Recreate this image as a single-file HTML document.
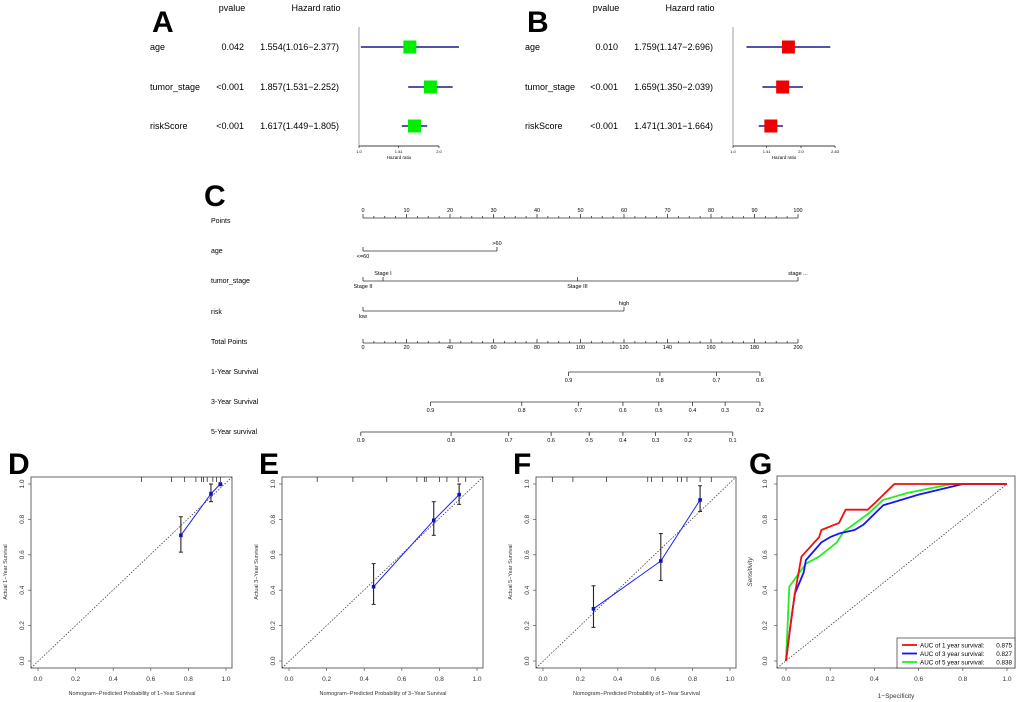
<!DOCTYPE html>
<html><head><meta charset="utf-8"><style>
body{margin:0;background:#fff;}
svg{display:block;font-family:"Liberation Sans",Arial,sans-serif;}
</style></head><body>
<svg id="fig" width="1020" height="702" viewBox="0 0 1020 702" xmlns="http://www.w3.org/2000/svg"></svg>
<script>
// ---- Forest plot data ----
const forestVars = ["age","tumor_stage","riskScore"];
const aP = ["0.042","<0.001","<0.001"];
const aHR = [1.554,1.857,1.617];
const aLo = [1.016,1.531,1.449];
const aHi = [2.377,2.252,1.805];
const bP = ["0.010","<0.001","<0.001"];
const bHR = [1.759,1.659,1.471];
const bLo = [1.147,1.350,1.301];
const bHi = [2.696,2.039,1.664];
const aTicks = [1.0,1.41,2.0];
const bTicks = [1.0,1.41,2.0,2.83];
// ---- Nomogram data ----
const nomoRows = ["Points","age","tumor_stage","risk","Total Points","1-Year Survival","3-Year Survival","5-Year survival"];
const ageLevels = ["<=60",">60"]; const agePts = [0,30.8];
const stageLevels = ["Stage II","Stage I","Stage III","stage ..."]; const stagePts = [0,4.6,49.3,100];
const riskLevels = ["low","high"]; const riskPts = [0,60];
const surv1Labels = ["0.9","0.8","0.7","0.6"]; const surv1Tot = [94.5,136.5,162.5,182.5];
const surv3Labels = ["0.9","0.8","0.7","0.6","0.5","0.4","0.3","0.2"]; const surv3Tot = [31,73,99,119.5,136,151.5,166.5,182.5];
const surv5Labels = ["0.9","0.8","0.7","0.6","0.5","0.4","0.3","0.2","0.1"]; const surv5Tot = [-1,40.5,67,86.5,104,119.5,134.5,149.5,170];
// ---- Calibration data ----
const calDX = [0.76,0.92,0.97]; const calDY = [0.71,0.945,1.0]; const calDLo=[0.615,0.90,0.99]; const calDHi=[0.815,1.0,1.0];
const calEX = [0.45,0.77,0.905]; const calEY = [0.42,0.795,0.94]; const calELo=[0.32,0.71,0.885]; const calEHi=[0.55,0.90,1.0];
const calFX = [0.27,0.63,0.84]; const calFY = [0.295,0.565,0.91]; const calFLo=[0.19,0.455,0.845]; const calFHi=[0.425,0.72,0.99];
const rugD = [0.55,0.71,0.78,0.84,0.87,0.88,0.9,0.93,0.95,0.97];
const rugE = [0.15,0.34,0.52,0.68,0.72,0.73,0.8,0.84,0.9,0.94];
const rugF = [0.05,0.16,0.34,0.56,0.58,0.64,0.72,0.74,0.77,0.84,0.9];
// ---- ROC data ----
const rocRedX=[0,0.02,0.04,0.07,0.15,0.16,0.24,0.27,0.37,0.40,0.49,1];
const rocRedY=[0,0.2,0.38,0.59,0.70,0.74,0.78,0.855,0.855,0.89,1,1];
const rocBlueX=[0,0.02,0.04,0.08,0.09,0.16,0.2,0.24,0.31,0.35,0.44,0.6,0.8,1];
const rocBlueY=[0,0.2,0.38,0.5,0.57,0.67,0.70,0.72,0.74,0.77,0.88,0.94,1,1];
const rocGreenX=[0,0.015,0.09,0.15,0.23,0.26,0.37,0.44,0.55,0.75,1];
const rocGreenY=[0,0.42,0.55,0.59,0.67,0.73,0.83,0.91,0.95,1,1];
const aucLabels=["AUC of 1 year survival:","AUC of 3 year survival:","AUC of 5 year survival:"];
const aucValues=["0.875","0.827","0.838"];

const NS="http://www.w3.org/2000/svg";
const svg=document.getElementById('fig');
function mk(tag,attrs,parent,text){const e=document.createElementNS(NS,tag);for(const k in attrs)e.setAttribute(k,attrs[k]);if(text!==undefined)e.textContent=text;(parent||svg).appendChild(e);return e;}
function grp(name){const g=mk('g',{});return g;}

// ---------- Forest ----------
function forest(name,letter,lx,labelX,pRight,hrRight,axX,unit,P,HR,LO,HI,ticks,color){
  const g=grp(name);
  const sx=v=>axX+unit*Math.log(v)/Math.LN2;
  const t=mk('text',{x:labelX+2,y:32,'font-size':30,'font-weight':'bold'},g,letter);
  
  mk('text',{x:pRight-12,y:11,'font-size':9,'text-anchor':'middle'},g,'pvalue');
  mk('text',{x:hrRight-23,y:11,'font-size':9,'text-anchor':'middle'},g,'Hazard ratio');
  const rowY=[47,87,126];
  forestVars.forEach((v,i)=>{
    mk('text',{x:labelX,y:rowY[i]+3,'font-size':9},g,v);
    mk('text',{x:pRight,y:rowY[i]+3,'font-size':9,'text-anchor':'end'},g,P[i]);
    mk('text',{x:hrRight,y:rowY[i]+3,'font-size':9,'text-anchor':'end'},g,HR[i].toFixed(3)+'('+LO[i].toFixed(3)+'\u2212'+HI[i].toFixed(3)+')');
    const l=mk('line',{x1:sx(LO[i]),x2:sx(HI[i]),y1:rowY[i],y2:rowY[i],stroke:'#1a1a8c','stroke-width':1.6},g);
    
    const r=mk('rect',{x:sx(HR[i])-6.5,y:rowY[i]-6.5,width:13,height:13,fill:color},g);
    
  });
  mk('line',{x1:axX,x2:axX,y1:27,y2:146,stroke:'#888','stroke-width':0.8},g);
  const last=ticks[ticks.length-1];
  mk('line',{x1:axX,x2:sx(last),y1:146,y2:146,stroke:'#000','stroke-width':0.8},g);
  ticks.forEach(tk=>{mk('line',{x1:sx(tk),x2:sx(tk),y1:146,y2:148,stroke:'#000','stroke-width':0.6},g);
    mk('text',{x:sx(tk),y:153,'font-size':4,'text-anchor':'middle'},g,tk.toFixed(tk===1.41||tk===2.83?2:1));});
  mk('text',{x:(axX+sx(ticks[ticks.length-1]))/2,y:159,'font-size':4.5,'text-anchor':'middle'},g,'Hazard ratio');
}
forest('forest-plot-a','A',150,150,244,339,359,80,aP,aHR,aLo,aHi,aTicks,'#00ee00');
forest('forest-plot-b','B',510,525,618,713,733,68,bP,bHR,bLo,bHi,bTicks,'#ee0000');

// ---------- Nomogram ----------
(function(){
  const g=grp('nomogram');
  const x0=363,x1=798;
  const px=p=>x0+(x1-x0)*p/100;
  const tx=t=>x0+(x1-x0)*t/200;
  const t=mk('text',{x:204,y:206,'font-size':30,'font-weight':'bold'},g,'C');
  
  const rowY=[220,250,280,311,341,371,401,431];
  nomoRows.forEach((r,i)=>mk('text',{x:211,y:rowY[i]+3,'font-size':7},g,r));
  const ls={stroke:'#333','stroke-width':0.8};
  // points axis
  let y=218;
  mk('line',Object.assign({x1:x0,x2:x1,y1:y,y2:y},ls),g);
  for(let p=0;p<=100;p+=2.5){const maj=p%10===0;mk('line',Object.assign({x1:px(p),x2:px(p),y1:y,y2:y-(maj?4:2)},ls),g);
    if(maj)mk('text',{x:px(p),y:y-6,'font-size':5.5,'text-anchor':'middle'},g,String(p));}
  function cat(yy,levels,pts,above){
    const mx=Math.max(...pts);
    mk('line',Object.assign({x1:x0,x2:px(mx),y1:yy,y2:yy},ls),g);
    levels.forEach((l,i)=>{mk('line',Object.assign({x1:px(pts[i]),x2:px(pts[i]),y1:yy,y2:yy-4},ls),g);
      const up=above[i];mk('text',{x:px(pts[i]),y:up?yy-6:yy+7,'font-size':5.5,'text-anchor':'middle'},g,l);});
  }
  cat(251,ageLevels,agePts,[false,true]);
  cat(281,stageLevels,stagePts,[false,true,false,true]);
  cat(311,riskLevels,riskPts,[false,true]);
  y=343;
  mk('line',Object.assign({x1:x0,x2:x1,y1:y,y2:y},ls),g);
  for(let p=0;p<=200;p+=5){const maj=p%20===0;mk('line',Object.assign({x1:tx(p),x2:tx(p),y1:y,y2:y-(maj?4:2)},ls),g);
    if(maj)mk('text',{x:tx(p),y:y+6,'font-size':5.5,'text-anchor':'middle'},g,String(p));}
  function surv(yy,labels,tots){
    mk('line',Object.assign({x1:tx(tots[0]),x2:tx(tots[tots.length-1]),y1:yy,y2:yy},ls),g);
    labels.forEach((l,i)=>{mk('line',Object.assign({x1:tx(tots[i]),x2:tx(tots[i]),y1:yy,y2:yy+4},ls),g);
      mk('text',{x:tx(tots[i]),y:yy+10,'font-size':5.5,'text-anchor':'middle'},g,l);});
  }
  surv(372,surv1Labels,surv1Tot);
  surv(402,surv3Labels,surv3Tot);
  surv(432,surv5Labels,surv5Tot);
})();

// ---------- Calibration ----------
function calib(name,letter,bx,x0,x1,X,Y,LO,HI,rug,xt,yt){
  const g=grp(name);
  const sx=v=>x0+(x1-x0)*v, sy=v=>661-(661-484)*v;
  const t=mk('text',{x:bx-23,y:474,'font-size':30,'font-weight':'bold'},g,letter);
  
  mk('rect',{x:bx,y:477,width:x1-x0+13,height:191,fill:'none',stroke:'#555','stroke-width':0.9},g);
  mk('line',{x1:bx,y1:668,x2:bx+x1-x0+13,y2:477,stroke:'#444','stroke-width':0.8,'stroke-dasharray':'1.5,1.5'},g);
  [0,0.2,0.4,0.6,0.8,1].forEach(v=>{
    mk('line',{x1:sx(v),x2:sx(v),y1:668,y2:671,stroke:'#555','stroke-width':0.7},g);
    mk('text',{x:sx(v),y:681,'font-size':6.5,'text-anchor':'middle',fill:'#333'},g,v.toFixed(1));
    mk('line',{x1:bx,x2:bx-3,y1:sy(v),y2:sy(v),stroke:'#555','stroke-width':0.7},g);
    mk('text',{x:bx-7,y:sy(v),'font-size':6.5,'text-anchor':'middle',fill:'#333',transform:`rotate(-90 ${bx-7} ${sy(v)})`},g,v.toFixed(1));
  });
  mk('text',{x:(x0+x1)/2,y:695,'font-size':5.5,'text-anchor':'middle',fill:'#333'},g,xt);
  mk('text',{x:bx-24,y:572,'font-size':5.5,'text-anchor':'middle',fill:'#333',transform:`rotate(-90 ${bx-24} 572)`},g,yt);
  rug.forEach(v=>mk('line',{x1:sx(v),x2:sx(v),y1:477,y2:482,stroke:'#333','stroke-width':0.8},g));
  const pl=mk('polyline',{points:X.map((v,i)=>sx(v)+','+sy(Y[i])).join(' '),fill:'none',stroke:'#1f1fff','stroke-width':1},g);
  
  X.forEach((v,i)=>{
    mk('line',{x1:sx(v),x2:sx(v),y1:sy(LO[i]),y2:sy(HI[i]),stroke:'#222','stroke-width':1.1},g);
    mk('line',{x1:sx(v)-2,x2:sx(v)+2,y1:sy(LO[i]),y2:sy(LO[i]),stroke:'#222','stroke-width':1},g);
    mk('line',{x1:sx(v)-2,x2:sx(v)+2,y1:sy(HI[i]),y2:sy(HI[i]),stroke:'#222','stroke-width':1},g);
    const p=mk('rect',{x:sx(v)-1.8,y:sy(Y[i])-1.8,width:3.6,height:3.6,fill:'#1010c0'},g);
    
  });
}
calib('calibration-1-year','D',31,38,226,calDX,calDY,calDLo,calDHi,rugD,'Nomogram\u2212Predicted Probability of 1\u2212Year Survival','Actual 1\u2212Year Survival');
calib('calibration-3-year','E',282,289,477,calEX,calEY,calELo,calEHi,rugE,'Nomogram\u2212Predicted Probability of 3\u2212Year Survival','Actual 3\u2212Year Survival');
calib('calibration-5-year','F',536,543,730,calFX,calFY,calFLo,calFHi,rugF,'Nomogram\u2212Predicted Probability of 5\u2212Year Survival','Actual 5\u2212Year Survival');

// ---------- ROC ----------
(function(){
  const g=grp('roc-plot');
  const sx=v=>786+221*v, sy=v=>661-177*v;
  const t=mk('text',{x:749,y:474,'font-size':30,'font-weight':'bold'},g,'G');
  
  mk('rect',{x:777,y:476,width:238,height:192,fill:'none',stroke:'#555','stroke-width':0.9},g);
  mk('line',{x1:777,y1:668,x2:sx(1),y2:sy(1),stroke:'#444','stroke-width':0.8,'stroke-dasharray':'1.5,1.5'},g);
  [0,0.2,0.4,0.6,0.8,1].forEach(v=>{
    mk('line',{x1:sx(v),x2:sx(v),y1:668,y2:671,stroke:'#555','stroke-width':0.7},g);
    mk('text',{x:sx(v),y:681,'font-size':6.5,'text-anchor':'middle',fill:'#333'},g,v.toFixed(1));
    mk('line',{x1:777,x2:774,y1:sy(v),y2:sy(v),stroke:'#555','stroke-width':0.7},g);
    mk('text',{x:767,y:sy(v),'font-size':6.5,'text-anchor':'middle',fill:'#333',transform:`rotate(-90 767 ${sy(v)})`},g,v.toFixed(1));
  });
  mk('text',{x:896,y:698,'font-size':6.5,'text-anchor':'middle',fill:'#333'},g,'1\u2212Specificity');
  mk('text',{x:752,y:572,'font-size':6.5,'text-anchor':'middle','font-style':'italic',fill:'#333',transform:'rotate(-90 752 572)'},g,'Sensitivity');
  const series=[[rocGreenX,rocGreenY,'#22ee22','roc-5-year'],[rocBlueX,rocBlueY,'#1515ee','roc-3-year'],[rocRedX,rocRedY,'#ee1111','roc-1-year']];
  series.forEach(([X,Y,c,n])=>{const p=mk('polyline',{points:X.map((v,i)=>sx(v)+','+sy(Y[i])).join(' '),fill:'none',stroke:c,'stroke-width':1.8,'stroke-linejoin':'round'},g);
    });
  const lg=mk('g',{},g);
  
  mk('rect',{x:897,y:638,width:118,height:30,fill:'#fff',stroke:'#333','stroke-width':0.7},lg);
  const cols=['#ee1111','#1515ee','#22ee22'];
  aucLabels.forEach((l,i)=>{const yy=645+i*8.5;
    const e=mk('g',{},lg);
    mk('line',{x1:902,x2:917,y1:yy,y2:yy,stroke:cols[i],'stroke-width':1.8},e);
    mk('text',{x:920,y:yy+2.3,'font-size':6.3},e,l);
    mk('text',{x:1012,y:yy+2.3,'font-size':6.3,'text-anchor':'end'},e,aucValues[i]);});
})();
</script>
</body></html>
